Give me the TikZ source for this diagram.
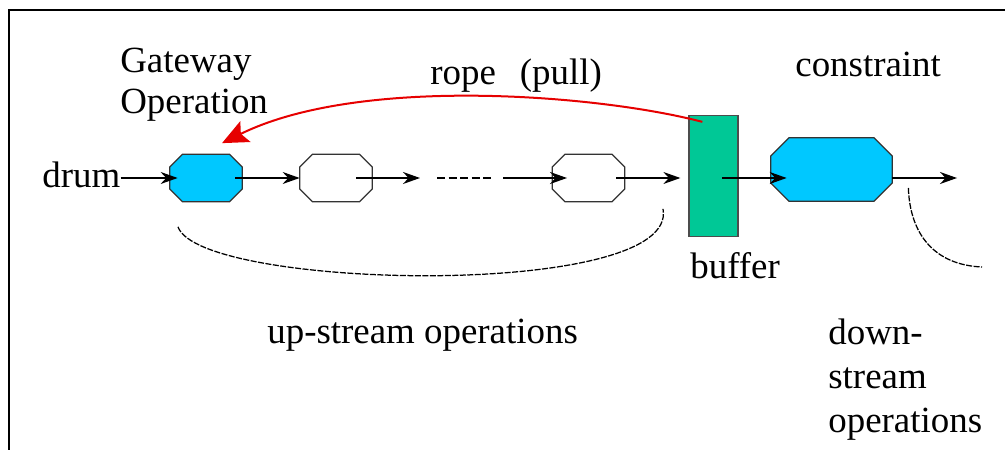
\documentclass[tikz,border=0pt]{standalone}
\usepackage{fontspec}
\setmainfont{Liberation Serif}
\usetikzlibrary{arrows.meta,calc}
\definecolor{opcyan}{RGB}{0,200,255}
\definecolor{bufgreen}{RGB}{0,200,150}
\definecolor{ropered}{RGB}{230,0,0}
\tikzset{%
  opnode/.style   = {rectangle, inner sep=0pt,%
                     minimum width=14.4mm, minimum height=9.4mm},%
  constr/.style   = {opnode, minimum width=24.2mm, minimum height=12.6mm},%
  octa/.style     = {draw=black!80, line width=0.25mm},%
  buf/.style      = {rectangle, draw=black!70, fill=bufgreen, line width=0.25mm,%
                     minimum width=9.8mm, minimum height=24.2mm},%
  txt/.style      = {inner sep=0pt, font=\fontsize{21}{23.5}\selectfont, align=left},%
  flow/.style     = {-{Stealth[length=3.4mm,width=2.4mm]}, line width=0.3mm},%
  spanline/.style = {dash pattern=on 1.2mm off 0.3mm, line width=0.25mm}%
}
% octagon drawn on the box of a node: name, corner cut, fill
\newcommand{\octabox}[3]{%
  \draw[octa, fill=#3]
    ([xshift=#2]#1.north west) -- ([xshift=-#2]#1.north east)
    -- ([yshift=-#2]#1.north east) -- ([yshift=#2]#1.south east)
    -- ([xshift=-#2]#1.south east) -- ([xshift=#2]#1.south west)
    -- ([yshift=#2]#1.south west) -- ([yshift=-#2]#1.north west) -- cycle;}
\begin{document}
\begin{tikzpicture}[x=0.2mm, y=-0.2mm]
  \useasboundingbox (0,0) rectangle (1005,450);
  % -------------- frame --------------------------------------
  \draw[line width=0.45mm] (9,450) -- (9,10) -- (1005,10);
  % -------------- operations along the line ------------------
  \node[opnode]  (gate)   at (206,178) {};
  \node[opnode]  (op2)    at (336,178) {};
  \node[opnode]  (op3)    at (588.5,178) {};
  \node[buf]     (buffer) at (713.5,176) {};
  \node[constr]  (constr) at (831.5,169.5) {};
  \octabox{gate}{2.6mm}{opcyan}
  \octabox{op2}{2.6mm}{white}
  \octabox{op3}{2.6mm}{white}
  \octabox{constr}{3.7mm}{opcyan}
  \coordinate (gapA) at (420,178);
  \coordinate (gapB) at (503,178);
  \coordinate (exit) at (957,178);
  \coordinate (downend) at (982,267);
  % -------------- labels -------------------------------------
  \node[txt, anchor=base west] (drum)      at (42,188)  {drum};
  \node[txt, anchor=base west] (gatelbl)   at (120,114) {Gateway\\Operation};
  \node[txt, anchor=base west] (ropelbl)   at (430,85)  {rope\hspace{0.65em}(pull)};
  \node[txt, anchor=base west] (constrlbl) at (795,77)  {constraint};
  \node[txt, anchor=base west] (buflbl)    at (690,279) {buffer};
  \node[txt, anchor=base west] (uplbl)     at (267,343) {up-stream operations};
  \node[txt, anchor=base west, font=\fontsize{21}{25}\selectfont]
    (downlbl) at (828,432) {down-\\stream\\operations};
  % -------------- material flow ------------------------------
  \draw[flow] (drum.east |- gate) -- ([xshift=1.6mm]gate.west);
  \draw[flow] ([xshift=-1.4mm]gate.east) -- (op2.west);
  \draw[flow] ([xshift=4mm]op2.center) -- (gapA);
  \draw[dash pattern=on 1.6mm off 0.7mm, line width=0.3mm]
    ([xshift=3.4mm]gapA) -- ([xshift=-2.4mm]gapB);
  \draw[flow] (gapB) -- ([xshift=-4.3mm]op3.center);
  \draw[flow] ([xshift=5.5mm]op3.center) -- ($(buffer.west |- gate)+(-8,0)$);
  \draw[flow] ($(buffer.center |- gate)+(8.5,0)$) -- ($(constr.west |- gate)+(16,0)$);
  \draw[flow] (constr.east |- gate) -- (exit);
  % -------------- rope back to the gateway -------------------
  \draw[ropered, line width=0.4mm, -{Stealth[length=5.2mm,width=4.6mm,inset=1mm]}]
    ([xshift=2.8mm,yshift=-1.4mm]buffer.north west)
    .. controls (600,95) and (360,75) .. ([xshift=3.2mm,yshift=2.2mm]gate.north);
  % -------------- up-stream / down-stream spans --------------
  \draw[spanline] ([xshift=-5.6mm,yshift=-5mm]gate.south)
    .. controls (200,290) and (680,300) .. ([xshift=14.9mm,yshift=-1.4mm]op3.south);
  \draw[spanline] ([xshift=3.2mm,yshift=-3.7mm]constr.east)
    .. controls (910,235) and (935,265) .. (downend);
\end{tikzpicture}
\end{document}
